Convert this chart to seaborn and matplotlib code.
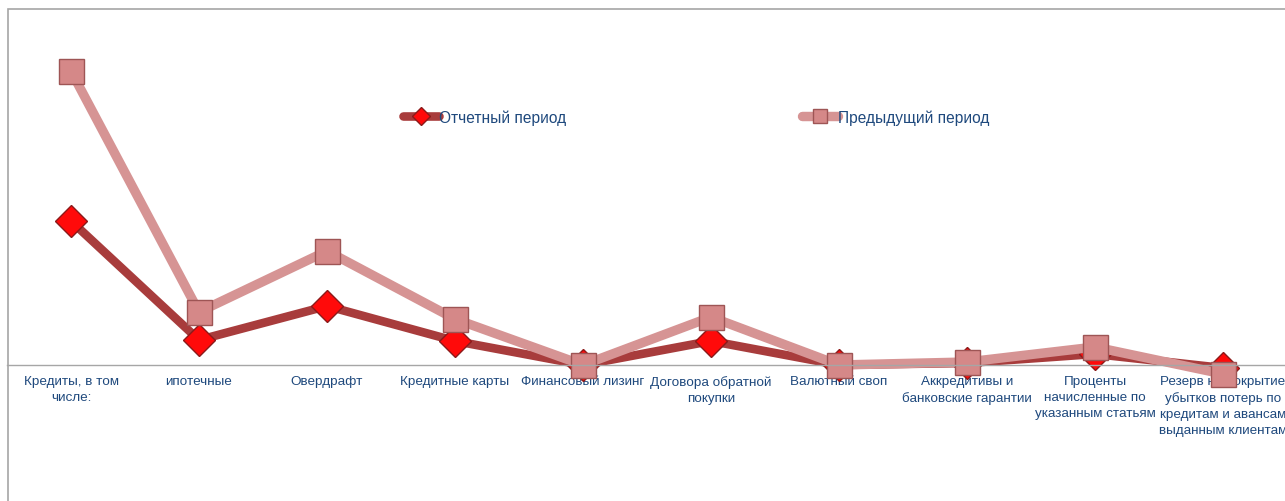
import pandas as pd
import seaborn as sns
import matplotlib.pyplot as plt
from matplotlib.patches import Rectangle

categories = [
    'Кредиты, в том\nчисле:',
    'ипотечные',
    'Овердрафт',
    'Кредитные карты',
    'Финансовый лизинг',
    'Договора обратной\nпокупки',
    'Валютный своп',
    'Аккредитивы и\nбанковские гарантии',
    'Проценты\nначисленные по\nуказанным статьям',
    'Резерв на покрытие\nубытков потерь по\nкредитам и авансам\nвыданным клиентам',
]
current_period = [144, 25, 59, 24, 0, 24, 0, 2, 11, -3]
previous_period = [294, 53, 114, 46, 0, 48, 0, 3, 18, -9]

df = pd.DataFrame({'category': categories,
                   'current': current_period,
                   'previous': previous_period})

sns.set_style('white')
plt.rcParams['font.family'] = ['Liberation Sans', 'DejaVu Sans']

W, H = 1285, 502
fig = plt.figure(figsize=(W / 100, H / 100), dpi=100)
# axes in pixel terms: x from 7 to 1287, y from 20 to 470 (zero line at 366)
ax = fig.add_axes([7 / W, (H - 470) / H, 1280 / W, 450 / H])

sns.lineplot(data=df, x='category', y='current', ax=ax, sort=False,
             color='#A83C3C', linewidth=6.2, marker='D', markersize=16,
             markerfacecolor='#FF0A0A', markeredgecolor='#8B1A1A',
             markeredgewidth=1, label='Отчетный период')
sns.lineplot(data=df, x='category', y='previous', ax=ax, sort=False,
             color='#D69494', linewidth=6.8, marker='s', markersize=18,
             markerfacecolor='#D58888', markeredgecolor='#9E5555',
             markeredgewidth=1, label='Предыдущий период')

ax.set_xlim(-0.5, len(categories) - 0.5)
ax.set_ylim(-104, 346)
ax.set_xlabel('')
ax.set_ylabel('')
ax.set_yticks([])

for s in ['top', 'right', 'left']:
    ax.spines[s].set_visible(False)
ax.spines['bottom'].set_position(('data', 0))
ax.spines['bottom'].set_color('#A6A6A6')
ax.spines['bottom'].set_linewidth(1)

ax.set_xticks(range(len(categories)))
ax.set_xticklabels(categories, fontsize=9.7, color='#1F497D', linespacing=1.45)
ax.tick_params(axis='x', which='major', length=0, pad=7)
ax.set_xticks([i - 0.5 for i in range(len(categories) + 1)], minor=True)
ax.tick_params(axis='x', which='minor', length=5, color='#A6A6A6', direction='out')

ax.legend(loc='center left', bbox_to_anchor=(396 / 1280, (470 - 118) / 450),
          ncol=2, frameon=False, fontsize=11.2, handlelength=2.3,
          handletextpad=0.0, columnspacing=15.2, labelcolor='#1F497D',
          markerscale=0.55, borderaxespad=0, borderpad=0)

fig.patches.append(Rectangle((8 / W, -0.1), 1.2, (H - 10) / H + 0.1,
                             transform=fig.transFigure, fill=False,
                             edgecolor='#A6A6A6', linewidth=1.2))

fig.savefig('out.png', dpi=100)
